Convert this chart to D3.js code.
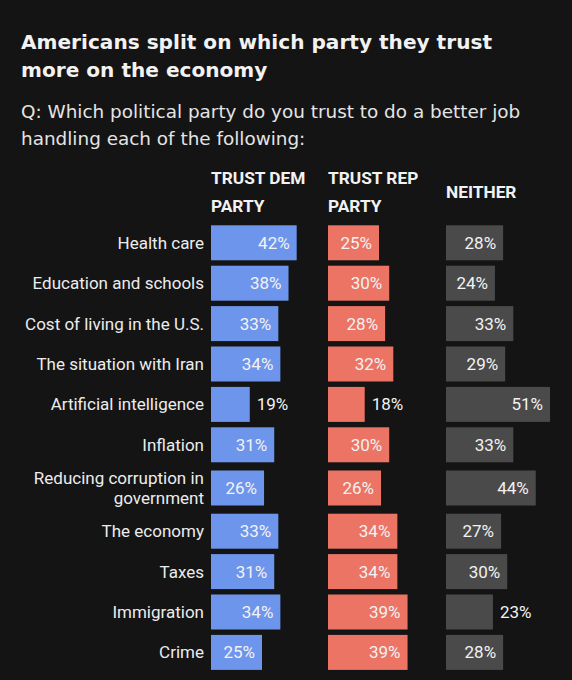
<!DOCTYPE html>
<html>
<head>
<meta charset="utf-8">
<script src="https://cdn.jsdelivr.net/npm/d3@7"></script>
<style>
  html, body { margin: 0; padding: 0; background: #141414; }
  svg { display: block; }
</style>
</head>
<body>
<svg id="chart" width="572" height="680"></svg>
<script>
const categories = [
  "Health care",
  "Education and schools",
  "Cost of living in the U.S.",
  "The situation with Iran",
  "Artificial intelligence",
  "Inflation",
  "Reducing corruption in|government",
  "The economy",
  "Taxes",
  "Immigration",
  "Crime"
];
const trustDem = [42, 38, 33, 34, 19, 31, 26, 33, 31, 34, 25];
const trustRep = [25, 30, 28, 32, 18, 30, 26, 34, 34, 39, 39];
const neither  = [28, 24, 33, 29, 51, 33, 44, 27, 30, 23, 28];
const seriesNames = [["TRUST DEM", "PARTY"], ["TRUST REP", "PARTY"], ["NEITHER"]];
const title = ["Americans split on which party they trust", "more on the economy"];
const subtitle = ["Q: Which political party do you trust to do a better job", "handling each of the following:"];

const colors = ["#6e95ec", "#eb7464", "#4a4a4a"];
const series = [trustDem, trustRep, neither];

const svg = d3.select("#chart");
const font = "Roboto, 'Liberation Sans', sans-serif";
const wideFont = "'DejaVu Sans', Verdana, sans-serif";

// Title
svg.append("text")
  .attr("font-family", wideFont).attr("font-weight", 700).attr("font-size", 20.1)
  .attr("fill", "#f2f2f2")
  .selectAll("tspan").data(title).join("tspan")
  .attr("x", 21).attr("y", (d, i) => 48.5 + i * 28).text(d => d);

// Subtitle
svg.append("text")
  .attr("font-family", wideFont).attr("font-weight", 400).attr("font-size", 18.4)
  .attr("fill", "#e4e4e4")
  .selectAll("tspan").data(subtitle).join("tspan")
  .attr("x", 21).attr("y", (d, i) => 117.5 + i * 27.7).text(d => d);

// Column layout
const colStarts = [211, 328, 446];
const x = d3.scaleLinear().domain([0, 100]).range([0, 204]);

// Headers
seriesNames.forEach((lines, c) => {
  const t = svg.append("text")
    .attr("font-family", font).attr("font-weight", 700).attr("font-size", 17.3)
    .attr("fill", "#f2f2f2");
  const y0 = lines.length === 2 ? 184.3 : 197.7;
  lines.forEach((ln, i) => {
    t.append("tspan").attr("x", colStarts[c]).attr("y", y0 + i * 27.4).text(ln);
  });
});

// Row positions: extra space for two-line labels
const lineCounts = categories.map(c => c.split("|").length);
const basePitch = 40.4, extra = 5.6;
const rowTop = [];
let acc = 225.3;
lineCounts.forEach((n, i) => {
  const ex = n > 1 ? extra / 2 : 0;
  acc += ex;
  rowTop.push(acc);
  acc += basePitch + ex;
});
const barH = 35;

const labelG = svg.append("g");
categories.forEach((c, i) => {
  const lines = c.split("|");
  const cy = rowTop[i] + barH / 2;
  const t = labelG.append("text")
    .attr("text-anchor", "end")
    .attr("font-family", font).attr("font-weight", 400).attr("font-size", 17)
    .attr("fill", "#ececec");
  lines.forEach((ln, j) => {
    t.append("tspan").attr("x", 204)
      .attr("y", cy + 6 + (j - (lines.length - 1) / 2) * 20).text(ln);
  });
});

series.forEach((vals, s) => {
  const g = svg.append("g").attr("transform", `translate(${colStarts[s]},0)`);
  g.selectAll("rect").data(vals).join("rect")
    .attr("x", 0)
    .attr("y", (d, i) => rowTop[i])
    .attr("width", d => x(d))
    .attr("height", barH)
    .attr("fill", colors[s]);
  g.selectAll("text").data(vals).join("text")
    .attr("x", d => d >= 24 ? x(d) - 7 : x(d) + 7)
    .attr("y", (d, i) => rowTop[i] + barH / 2 + 6)
    .attr("text-anchor", d => d >= 24 ? "end" : "start")
    .attr("font-family", font).attr("font-weight", 400).attr("font-size", 17)
    .attr("fill", "#f2f2f2")
    .text(d => d + "%");
});
</script>
</body>
</html>
